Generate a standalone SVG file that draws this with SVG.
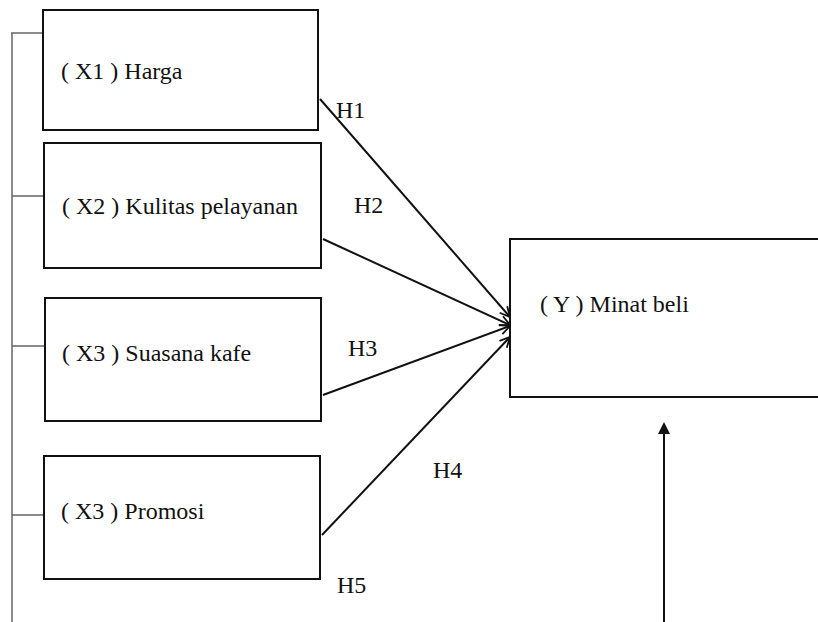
<svg xmlns="http://www.w3.org/2000/svg" width="818" height="622" viewBox="0 0 818 622">
<style>
.box{fill:#fff;stroke:#111;stroke-width:2}
text{font-family:'Liberation Serif','Times New Roman',Times,serif;font-size:24px;fill:#111}
.br{stroke:#666;stroke-width:1.5;fill:none}
.ar{stroke:#111;stroke-width:2;fill:none}
</style>
<defs>
<marker id="open" viewBox="0 0 12 12" refX="11" refY="6" markerWidth="12" markerHeight="12" markerUnits="userSpaceOnUse" orient="auto">
<path d="M1,1 L11,6 L1,11" fill="none" stroke="#111" stroke-width="1.8"/>
</marker>
</defs>
<g id="connectors">
<path class="br" d="M11,33 H43 M12,33 V622 M12,196 H44 M12,346 H45 M12,515 H44"/>
<line class="ar" x1="320" y1="99" x2="510" y2="317" marker-end="url(#open)"/>
<line class="ar" x1="323" y1="239" x2="510" y2="325" marker-end="url(#open)"/>
<line class="ar" x1="323" y1="395" x2="510" y2="326" marker-end="url(#open)"/>
<line class="ar" x1="322" y1="535" x2="510" y2="337" marker-end="url(#open)"/>
<line x1="664" y1="622" x2="664" y2="434" stroke="#111" stroke-width="2"/>
<path d="M664,422 L670,434 L658,434 Z" fill="#111"/>
<text x="336" y="118" font-family="Liberation Serif, serif" font-size="24">H1</text>
<text x="354" y="213" font-family="Liberation Serif, serif" font-size="24">H2</text>
<text x="348" y="356" font-family="Liberation Serif, serif" font-size="24">H3</text>
<text x="433" y="478" font-family="Liberation Serif, serif" font-size="24">H4</text>
<text x="337" y="593" font-family="Liberation Serif, serif" font-size="24">H5</text>
</g>
<g id="x1">
<rect class="box" x="43" y="10" width="275" height="120"/>
<text x="61" y="79" font-family="Liberation Serif, serif" font-size="24">( X1 ) Harga</text>
</g>
<g id="x2">
<rect class="box" x="44" y="143" width="277" height="125"/>
<text x="62" y="214" font-family="Liberation Serif, serif" font-size="24">( X2 ) Kulitas pelayanan</text>
</g>
<g id="x3">
<rect class="box" x="45" y="298" width="276" height="123"/>
<text x="62" y="361" font-family="Liberation Serif, serif" font-size="24">( X3 ) Suasana kafe</text>
</g>
<g id="x4">
<rect class="box" x="44" y="456" width="276" height="123"/>
<text x="61" y="519" font-family="Liberation Serif, serif" font-size="24">( X3 ) Promosi</text>
</g>
<g id="y">
<rect class="box" x="510" y="239" width="320" height="158"/>
<text x="540" y="312" font-family="Liberation Serif, serif" font-size="24">( Y ) Minat beli</text>
</g>
</svg>
